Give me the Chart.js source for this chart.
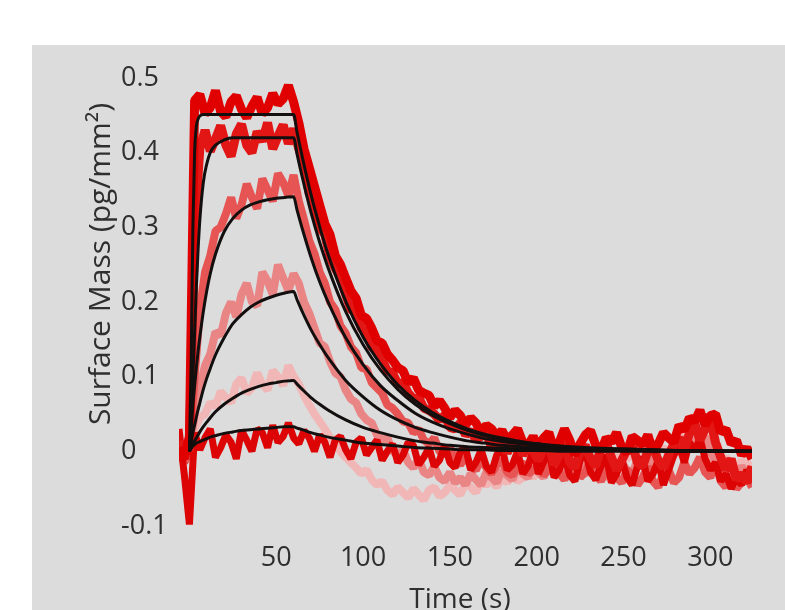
<!DOCTYPE html>
<html>
<head>
<meta charset="utf-8">
<script src="https://cdn.jsdelivr.net/npm/chart.js@4/dist/chart.umd.min.js"></script>
<style>
  html, body { margin: 0; padding: 0; background: #ffffff; }
  canvas { display: block; }
</style>
</head>
<body>
<canvas id="c" width="785" height="610"></canvas>
<script>
// ---------- data ----------
const xTitle = 'Time (s)';
const yTitle = 'Surface Mass (pg/mm²)';
const xTicks = [50, 100, 150, 200, 250, 300];
const yTicks = [-0.1, 0, 0.1, 0.2, 0.3, 0.4, 0.5];

// sampling grid of the measured traces (s)
const traceStart = -6, traceStep = 3, traceCount = 111;

// measured traces (pg/mm²), one value per grid step
const traceA = [0.005,-0.01,0.02,
 0.47,0.478,0.452,0.46,0.483,0.455,0.448,0.468,0.476,0.458,0.447,0.462,0.474,0.452,0.46,0.479,0.465,0.472,0.49,0.468,
 0.44,0.405,0.38,0.355,0.33,0.305,0.29,0.262,0.25,0.232,0.215,0.205,0.182,0.178,0.165,0.148,0.145,0.13,0.122,0.112,
 0.108,0.092,0.098,0.082,0.078,0.075,0.06,0.068,0.058,0.045,0.055,0.048,0.035,0.045,0.038,0.025,0.035,0.03,0.02,0.028,
 0.015,0.022,0.03,0.012,0.008,0.02,
 0.005,0.018,0.025,0.002,0.012,0.03,0.015,-0.005,0.01,0.022,0.028,0.008,0.0,0.018,0.012,0.025,0.005,-0.002,0.02,0.015,
 0.008,0.022,0.0,0.01,0.025,0.018,0.012,0.035,0.028,0.045,0.04,0.055,0.035,0.048,0.05,0.025,0.03,0.01,0.015,-0.005,
 0.005,-0.01];
const traceB = [0.0,0.012,0.0,
 0.30,0.405,0.43,0.402,0.418,0.436,0.41,0.395,0.425,0.438,0.41,0.4,0.428,0.415,0.44,0.405,0.422,0.437,0.412,0.432,
 0.405,0.385,0.345,0.33,0.3,0.29,0.26,0.245,0.232,0.21,0.19,0.185,0.165,0.158,0.14,0.135,0.122,0.108,0.105,0.09,
 0.092,0.078,0.07,0.072,0.058,0.055,0.05,0.042,0.048,0.032,0.03,0.038,0.022,0.028,0.015,0.02,0.025,0.005,0.012,0.018,
 -0.002,0.01,0.015,-0.005,0.008,0.0,
 -0.012,0.005,0.01,-0.018,-0.005,0.012,-0.015,-0.022,0.0,0.008,-0.01,-0.02,0.005,0.012,-0.008,-0.025,-0.012,0.002,0.01,-0.015,
 -0.02,0.0,0.006,-0.012,-0.022,-0.005,0.01,0.018,0.0,0.025,0.038,0.015,0.03,0.042,0.012,-0.008,-0.025,-0.01,-0.038,-0.03,
 -0.042,-0.02];
const traceC = [0.0,-0.015,0.0,
 0.10,0.19,0.24,0.262,0.295,0.3,0.318,0.34,0.312,0.33,0.358,0.34,0.325,0.365,0.35,0.335,0.372,0.36,0.342,0.37,
 0.335,0.31,0.282,0.265,0.24,0.225,0.2,0.19,0.168,0.158,0.14,0.132,0.112,0.11,0.092,0.085,0.078,0.062,0.058,0.05,
 0.04,0.038,0.025,0.03,0.015,0.01,0.018,0.0,-0.005,0.005,-0.012,-0.018,-0.005,-0.02,-0.025,-0.01,-0.022,-0.03,-0.018,-0.012,
 -0.028,-0.032,-0.02,-0.015,-0.03,-0.025,
 -0.018,-0.032,-0.025,-0.01,-0.03,-0.038,-0.02,-0.015,-0.035,-0.028,-0.012,-0.03,-0.04,-0.022,-0.018,-0.035,-0.042,-0.025,-0.03,-0.045,
 -0.035,-0.02,-0.04,-0.048,-0.03,-0.025,-0.042,-0.035,-0.015,-0.03,-0.022,-0.008,-0.028,-0.035,-0.015,-0.04,-0.048,-0.03,-0.05,-0.042,
 -0.035,-0.048];
const traceD = [0.01,0.0,0.0,
 0.05,0.085,0.115,0.13,0.16,0.155,0.185,0.2,0.18,0.21,0.225,0.2,0.195,0.24,0.228,0.21,0.25,0.232,0.215,0.238,
 0.225,0.2,0.185,0.165,0.145,0.14,0.12,0.105,0.1,0.082,0.07,0.065,0.05,0.042,0.038,0.022,0.015,0.018,0.0,-0.005,
 0.002,-0.015,-0.022,-0.01,-0.028,-0.032,-0.02,-0.035,-0.04,-0.028,-0.042,-0.035,-0.045,-0.03,-0.038,-0.045,-0.028,-0.035,-0.042,-0.025,
 -0.032,-0.038,-0.022,-0.03,-0.035,-0.02,
 -0.028,-0.035,-0.018,-0.025,-0.032,-0.015,-0.028,-0.022,-0.012,-0.03,-0.025,-0.018,-0.032,-0.035,-0.02,-0.028,-0.015,-0.025,-0.03,-0.012,
 -0.02,-0.025,-0.008,-0.018,-0.028,-0.012,-0.005,0.008,0.018,0.01,0.025,0.012,0.02,0.0,-0.015,-0.02,-0.01,-0.028,-0.035,-0.02,
 -0.03,-0.025];
const traceE = [0.0,0.01,0.0,
 0.03,0.045,0.05,0.065,0.06,0.08,0.072,0.065,0.09,0.098,0.078,0.085,0.105,0.09,0.082,0.108,0.1,0.088,0.115,0.1,
 0.09,0.075,0.062,0.05,0.04,0.03,0.018,0.012,0.0,-0.008,-0.015,-0.022,-0.03,-0.025,-0.038,-0.045,-0.04,-0.052,-0.058,-0.048,
 -0.055,-0.062,-0.05,-0.058,-0.065,-0.052,-0.048,-0.06,-0.055,-0.045,-0.052,-0.058,-0.042,-0.048,-0.055,-0.04,-0.045,-0.038,-0.048,-0.035,
 -0.042,-0.03,-0.04,-0.035,-0.028,-0.035,
 -0.025,-0.03,-0.018,-0.028,-0.022,-0.012,-0.02,-0.025,-0.01,-0.018,-0.008,-0.015,-0.01,-0.002,-0.012,-0.008,0.0,-0.01,-0.005,0.005,
 -0.008,-0.002,-0.012,0.0,0.005,-0.005,0.01,0.02,0.028,0.015,0.035,0.025,0.018,0.008,-0.005,-0.015,-0.008,-0.02,-0.025,-0.012,
 -0.02,-0.015];
const traceF = [0.03,-0.03,-0.098,
 0.025,0.002,0.018,0.03,-0.008,0.005,0.022,0.012,-0.01,0.028,0.015,0.0,0.03,0.025,0.005,0.035,0.012,0.02,0.038,0.018,
 0.01,0.028,0.018,0.0,0.022,0.012,-0.008,0.015,0.02,0.002,-0.01,0.012,0.018,-0.005,0.005,0.015,-0.012,0.0,0.01,-0.015,
 -0.005,0.012,0.008,-0.018,-0.008,0.005,-0.02,-0.012,0.008,-0.015,-0.022,0.0,0.005,-0.025,-0.015,0.002,-0.02,-0.028,-0.005,0.005,
 -0.025,-0.018,0.0,-0.03,-0.02,0.003,
 -0.03,-0.015,0.002,-0.035,-0.025,-0.005,-0.032,-0.04,-0.012,0.0,-0.028,-0.038,-0.02,-0.005,-0.042,-0.03,-0.01,-0.035,-0.045,-0.02,
 -0.008,-0.04,-0.03,-0.012,-0.045,-0.025,-0.005,0.008,-0.015,0.012,0.0,0.018,-0.01,-0.025,-0.015,-0.04,-0.03,-0.05,-0.035,-0.045,
 -0.025,-0.04];

// fitted curves (black), read at these times (s)
const fitTimes = [0,1,2,3,4,5,6,8,10,12,15,20,25,30,35,40,45,50,55,60,
                  62,65,70,75,80,90,100,110,120,130,140,150,160,170,180,200,220,250,280,324];
const fit1 = [0,0.12,0.30,0.40,0.435,0.445,0.449,0.451,0.451,0.451,0.451,0.451,0.451,0.451,0.451,0.451,0.451,0.451,0.451,0.451,
              0.427,0.394,0.344,0.301,0.263,0.201,0.153,0.117,0.089,0.068,0.052,0.040,0.030,0.023,0.018,0.010,0.006,0.003,0.001,0];
const fit2 = [0,0.04,0.10,0.16,0.22,0.27,0.31,0.36,0.385,0.40,0.41,0.417,0.42,0.42,0.42,0.42,0.42,0.42,0.42,0.42,
              0.398,0.367,0.320,0.280,0.245,0.187,0.143,0.109,0.083,0.063,0.048,0.037,0.028,0.021,0.016,0.010,0.005,0.003,0.001,0];
const fit3 = [0,0.03,0.062,0.088,0.112,0.134,0.153,0.187,0.215,0.238,0.264,0.294,0.312,0.323,0.330,0.334,0.337,0.339,0.340,0.341,
              0.323,0.298,0.260,0.227,0.199,0.152,0.116,0.088,0.068,0.051,0.039,0.030,0.023,0.017,0.013,0.008,0.004,0.002,0.001,0];
const fit4 = [0,0.012,0.025,0.035,0.046,0.056,0.065,0.083,0.098,0.111,0.129,0.152,0.171,0.183,0.193,0.200,0.205,0.209,0.212,0.214,
              0.203,0.187,0.163,0.143,0.125,0.095,0.073,0.055,0.042,0.032,0.025,0.019,0.014,0.011,0.008,0.005,0.003,0.001,0.001,0];
const fit5 = [0,0.005,0.010,0.014,0.018,0.022,0.026,0.033,0.039,0.045,0.053,0.063,0.071,0.078,0.083,0.087,0.090,0.092,0.094,0.095,
              0.090,0.083,0.072,0.063,0.055,0.042,0.032,0.025,0.019,0.014,0.011,0.008,0.006,0.005,0.004,0.002,0.001,0.001,0,0];
const fit6 = [0,0.004,0.007,0.009,0.011,0.012,0.013,0.015,0.017,0.019,0.021,0.024,0.026,0.028,0.029,0.030,0.031,0.032,0.033,0.033,
              0.031,0.029,0.025,0.022,0.019,0.015,0.011,0.009,0.007,0.005,0.004,0.003,0.002,0.002,0.001,0.001,0,0,0,0];

// ---------- build ----------
const FONT = '"Open Sans", "Noto Sans", sans-serif';
const TEXT = '#2f2f2f';
const traceTimes = [];
for (let i = 0; i < traceCount; i++) traceTimes.push(traceStart + i * traceStep);

const pts = (xs, ys) => xs.map((x, i) => ({ x: x, y: ys[i] }));

const fitSet = ys => ({
  data: pts(fitTimes, ys), borderColor: '#140f0f', borderWidth: 3,
  cubicInterpolationMode: 'monotone', pointRadius: 0, fill: false
});
const traceSet = (ys, color, w) => ({
  data: pts(traceTimes, ys), borderColor: color, borderWidth: w,
  tension: 0, pointRadius: 0, fill: false, borderJoinStyle: 'bevel'
});

const datasets = [
  fitSet(fit1), fitSet(fit2), fitSet(fit3), fitSet(fit4), fitSet(fit5), fitSet(fit6),
  traceSet(traceA, '#e00000', 9),
  traceSet(traceB, '#e31616', 9),
  traceSet(traceF, '#dc0404', 7),
  traceSet(traceC, '#e65454', 8),
  traceSet(traceD, '#ea8585', 8),
  traceSet(traceE, '#f1b6b6', 8)
];

const panelPlugin = {
  id: 'panel',
  beforeDraw(chart) {
    const c = chart.ctx;
    c.save();
    c.fillStyle = '#ffffff';
    c.fillRect(0, 0, chart.width, chart.height);
    c.fillStyle = '#dcdcdd';
    c.fillRect(32, 45, chart.width - 32, chart.height - 45);
    c.restore();
  },
  afterDraw(chart) {
    const c = chart.ctx;
    c.save();
    c.fillStyle = TEXT;
    c.textAlign = 'center';
    c.textBaseline = 'middle';
    c.font = '28px ' + FONT;
    c.fillText(xTitle, 460, 600);
    c.font = '30px ' + FONT;
    c.translate(101, 264);
    c.rotate(-Math.PI / 2);
    c.fillText(yTitle, 0, 0);
    c.restore();
  }
};

new Chart(document.getElementById('c'), {
  type: 'line',
  data: { datasets: datasets },
  plugins: [panelPlugin],
  options: {
    responsive: false,
    animation: false,
    devicePixelRatio: 1,
    layout: { padding: { left: 121, right: 33, top: 63, bottom: 0 } },
    plugins: { legend: { display: false }, tooltip: { enabled: false } },
    elements: { point: { radius: 0 } },
    scales: {
      x: {
        type: 'linear', min: -6, max: 324,
        afterBuildTicks: s => { s.ticks = xTicks.map(v => ({ value: v })); },
        afterFit: s => { s.height = 84; },
        grid: { display: false }, border: { display: false },
        ticks: { font: { family: FONT, size: 27 }, color: TEXT, padding: 8, maxRotation: 0, autoSkip: false }
      },
      y: {
        type: 'linear', min: -0.1, max: 0.52,
        afterBuildTicks: s => { s.ticks = yTicks.map(v => ({ value: v })); },
        afterFit: s => { s.width = 58; },
        grid: { display: false }, border: { display: false },
        ticks: {
          font: { family: FONT, size: 27 }, color: TEXT, crossAlign: 'far', autoSkip: false,
          callback: v => String(Math.round(v * 10) / 10)
        }
      }
    }
  }
});
</script>
</body>
</html>
